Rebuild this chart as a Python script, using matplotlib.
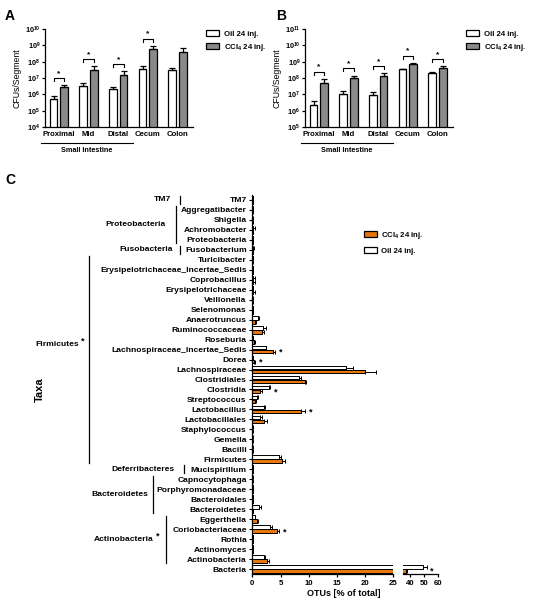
import numpy as np
import matplotlib
matplotlib.use('Agg')
import matplotlib.pyplot as plt
from matplotlib.patches import Patch
from matplotlib.ticker import NullLocator
from matplotlib.transforms import blended_transform_factory

plt.rcParams['font.family'] = ['Liberation Sans', 'DejaVu Sans']
plt.rcParams['font.weight'] = 'bold'
plt.rcParams['mathtext.default'] = 'regular'
plt.rcParams['axes.linewidth'] = 0.9

# ---- panels A / B: CFUs per segment ----
sites = ['Proximal', 'Mid', 'Distal', 'Cecum', 'Colon']

a_oil = [5.2e5, 3.2e6, 2.2e6, 3.7e7, 3.3e7]
a_oil_err = [3.1e5, 1.5e6, 0.5e6, 1.7e7, 1.0e7]
a_ccl4 = [2.7e6, 3.1e7, 1.6e7, 5.8e8, 4.0e8]
a_ccl4_err = [1.0e6, 2.0e7, 1.0e7, 3.3e8, 2.6e8]
a_sig = [0, 1, 2, 3]

b_oil = [2.3e6, 1.0e7, 9.5e6, 3.4e8, 2.1e8]
b_oil_err = [1.4e6, 0.7e7, 0.45e7, 0.3e8, 0.3e8]
b_ccl4 = [5.2e7, 1.0e8, 1.3e8, 6.9e8, 4.3e8]
b_ccl4_err = [3.5e7, 0.4e8, 0.7e8, 1.4e8, 1.1e8]
b_sig = [0, 1, 2, 3, 4]

# ---- panel C: OTUs ----
taxa = ['TM7', 'Aggregatibacter', 'Shigella', 'Achromobacter', 'Proteobacteria',
        'Fusobacterium', 'Turicibacter', 'Erysipelotrichaceae_Incertae_Sedis',
        'Coprobacillus', 'Erysipelotrichaceae', 'Veillonella', 'Selenomonas',
        'Anaerotruncus', 'Ruminococcaceae', 'Roseburia',
        'Lachnospiraceae_Incertae_Sedis', 'Dorea', 'Lachnospiraceae',
        'Clostridiales', 'Clostridia', 'Streptococcus', 'Lactobacillus',
        'Lactobacillales', 'Staphylococcus', 'Gemella', 'Bacilli', 'Firmicutes',
        'Mucispirillum', 'Capnocytophaga', 'Porphyromonadaceae', 'Bacteroidales',
        'Bacteroidetes', 'Eggerthella', 'Coriobacteriaceae', 'Rothia',
        'Actinomyces', 'Actinobacteria', 'Bacteria']
otu_oil = [0.05, 0.05, 0.02, 0.1, 0.05, 0.1, 0.05, 0.05, 0.2, 0.1, 0.02, 0.05,
           0.95, 1.95, 0.1, 2.36, 0.05, 16.7, 8.3, 2.9, 0.9, 2.1, 1.36, 0.02,
           0.02, 0.02, 4.8, 0.1, 0.03, 0.05, 0.05, 1.1, 0.45, 3.2, 0.1, 0.1,
           2.0, 49.5]
otu_oil_err = [0.1, 0.1, 0.03, 0.3, 0.1, 0.2, 0.1, 0.1, 0.3, 0.1, 0.05, 0.1,
               0.25, 0.4, 0.1, 0.15, 0.05, 1.1, 0.4, 0.3, 0.1, 0.1, 0.3, 0.05,
               0.03, 0.03, 0.2, 0.1, 0.05, 0.05, 0.05, 0.5, 0.1, 0.3, 0.05,
               0.05, 0.3, 2.5]
otu_ccl4 = [0.05, 0.02, 0.02, 0.05, 0.05, 0.05, 0.02, 0.05, 0.2, 0.2, 0.02,
            0.05, 0.5, 1.65, 0.3, 3.7, 0.3, 19.9, 9.3, 1.4, 0.4, 8.6, 2.1,
            0.02, 0.02, 0.02, 5.3, 0.1, 0.02, 0.05, 0.05, 0.1, 0.85, 4.4,
            0.05, 0.05, 2.6, 37.0]
otu_ccl4_err = [0.15, 0.05, 0.05, 0.1, 0.1, 0.1, 0.05, 0.1, 0.2, 0.2, 0.05,
                0.1, 0.2, 0.45, 0.1, 0.3, 0.1, 2.1, 0.15, 0.35, 0.2, 0.75,
                0.5, 0.05, 0.03, 0.03, 0.5, 0.1, 0.03, 0.05, 0.05, 0.1, 0.1,
                0.4, 0.05, 0.05, 0.3, 1.0]
otu_sig = ['Lachnospiraceae_Incertae_Sedis', 'Dorea', 'Clostridia',
           'Lactobacillus', 'Coriobacteriaceae', 'Bacteria']

phyla = ['TM7', 'Proteobacteria', 'Fusobacteria', 'Firmicutes',
         'Deferribacteres', 'Bacteroidetes', 'Actinobacteria']
phyla_first = [0, 1, 5, 6, 27, 28, 32]
phyla_last = [0, 4, 5, 26, 27, 31, 36]
phyla_sig = [False, False, False, True, False, False, True]

W, H = 533, 608
GREY = '#8a8a8a'
ORANGE = '#e8760f'
FS_C = 6.1


def rect(l, t, r, b):
    return [l / W, 1 - b / H, (r - l) / W, (b - t) / H]


fig = plt.figure(figsize=(W / 100, H / 100), dpi=100)


def cfu_panel(ax, oil, oil_err, ccl4, ccl4_err, sig, lo, hi):
    x = np.arange(len(sites))
    off, w = 0.18, 0.26
    z = np.zeros(len(sites))
    ax.bar(x - off, oil, w, color='white', edgecolor='black', lw=0.9, zorder=2)
    ax.bar(x + off, ccl4, w, color=GREY, edgecolor='black', lw=0.9, zorder=2)
    ax.errorbar(x - off, oil, yerr=[z, oil_err], fmt='none', ecolor='black',
                elinewidth=0.9, capsize=2.3, capthick=0.9, zorder=3)
    ax.errorbar(x + off, ccl4, yerr=[z, ccl4_err], fmt='none', ecolor='black',
                elinewidth=0.9, capsize=2.3, capthick=0.9, zorder=3)
    ax.set_yscale('log')
    ax.set_ylim(10.0 ** lo, 10.0 ** hi)
    ax.set_xlim(-0.47, 4.52)
    ax.set_yticks(10.0 ** np.arange(lo, hi + 1))
    ax.set_yticklabels(['$10^{%d}$' % e for e in range(lo, hi + 1)])
    ax.yaxis.set_minor_locator(NullLocator())
    ax.tick_params(axis='y', length=2.5, width=0.9, labelsize=5.2, pad=1)
    ax.set_xticks(x)
    ax.set_xticklabels(sites, fontsize=5.6)
    ax.tick_params(axis='x', length=0, pad=3)
    for s in ['top', 'right']:
        ax.spines[s].set_visible(False)
    ax.set_ylabel('CFUs/Segment', fontsize=6.3, labelpad=2)

    top = np.maximum(np.add(oil, oil_err), np.add(ccl4, ccl4_err))
    for i in sig:
        b = top[i] * 2.8
        ax.plot([i - off, i - off, i + off, i + off], [b / 1.5, b, b, b / 1.5],
                color='black', lw=0.8)
        ax.text(i, b * 1.15, '*', ha='center', va='bottom', fontsize=6)

    tr = blended_transform_factory(ax.transData, ax.transAxes)
    ax.plot([-0.6, 2.5], [-0.16, -0.16], color='black', lw=0.8,
            transform=tr, clip_on=False)
    ax.text(0.95, -0.235, 'Small Intestine', transform=tr, ha='center',
            va='center', fontsize=5.2)

    handles = [Patch(facecolor='white', edgecolor='black', lw=0.9),
               Patch(facecolor=GREY, edgecolor='black', lw=0.9)]
    ax.legend(handles, ['Oil 24 inj.', 'CCl$_4$ 24 inj.'], loc='upper left',
              bbox_to_anchor=(1.07, 1.02), frameon=False, fontsize=5.6,
              handlelength=1.6, handleheight=0.8, labelspacing=0.55,
              handletextpad=0.6, borderaxespad=0)


axA = fig.add_axes(rect(45, 29, 193, 127))
cfu_panel(axA, a_oil, a_oil_err, a_ccl4, a_ccl4_err, a_sig, 4, 10)
axB = fig.add_axes(rect(305, 29, 453, 127))
cfu_panel(axB, b_oil, b_oil_err, b_ccl4, b_ccl4_err, b_sig, 5, 11)

fig.text(5 / W, 1 - 16 / H, 'A', fontsize=10, va='center')
fig.text(276 / W, 1 - 16 / H, 'B', fontsize=10, va='center')
fig.text(5 / W, 1 - 180 / H, 'C', fontsize=10, va='center')

# ---- panel C ----
axL = fig.add_axes(rect(252.3, 195, 393.3, 574))
axR = fig.add_axes(rect(403, 195, 438.3, 574))
rows = np.arange(len(taxa))
zc = np.zeros(len(taxa))
for ax in (axL, axR):
    ax.barh(rows - 0.2, otu_oil, 0.38, color='white', edgecolor='black',
            lw=0.7, zorder=2)
    ax.barh(rows + 0.2, otu_ccl4, 0.38, color=ORANGE, edgecolor='black',
            lw=0.7, zorder=2)
    ax.errorbar(otu_oil, rows - 0.2, xerr=[zc, otu_oil_err], fmt='none',
                ecolor='black', elinewidth=0.7, capsize=1.2, capthick=0.7)
    ax.errorbar(otu_ccl4, rows + 0.2, xerr=[zc, otu_ccl4_err], fmt='none',
                ecolor='black', elinewidth=0.7, capsize=1.2, capthick=0.7)
    ax.set_ylim(len(taxa) - 0.5, -0.5)
    for s in ['top', 'right']:
        ax.spines[s].set_visible(False)
    ax.tick_params(axis='x', length=2.5, width=0.9, labelsize=5.6, pad=2)

axL.set_xlim(0, 25)
axL.set_xticks([0, 5, 10, 15, 20, 25])
axL.set_yticks(rows)
axL.set_yticklabels(taxa, fontsize=FS_C)
axL.tick_params(axis='y', length=2.5, width=0.8, pad=1.5)

axR.set_xlim(35, 60)
axR.set_xticks([40, 50, 60])
axR.set_yticks([])
axR.spines['left'].set_visible(False)

tot = np.maximum(np.add(otu_oil, otu_oil_err), np.add(otu_ccl4, otu_ccl4_err))
for name in otu_sig:
    i = taxa.index(name)
    if tot[i] > 25:
        axR.text(tot[i] + 3.5, i + 0.25, '*', ha='center', va='center',
                 fontsize=6.5, clip_on=False)
    else:
        axL.text(tot[i] + 1.0, i + 0.25, '*', ha='center', va='center',
                 fontsize=6.5)

# phylum brackets on the left
tr = blended_transform_factory(fig.transFigure, axL.transData)
line_px = [180, 176, 180, 89, 184, 152.7, 166]
label_px = [171, 166, 173, 79, 175, 148, 154]
label_row = [0, 2.5, 5, 14.5, 27, 29.5, 34]
for k, name in enumerate(phyla):
    f, l = phyla_first[k], phyla_last[k]
    pad = 0.4 if f == l else 0.35
    axL.plot([line_px[k] / W] * 2, [f - pad, l + pad], color='black', lw=0.9,
             transform=tr, clip_on=False)
    axL.text(label_px[k] / W, label_row[k], name, transform=tr, ha='right',
             va='center', fontsize=FS_C)
    if phyla_sig[k]:
        axL.text((label_px[k] + 1.5) / W, label_row[k] - 0.35, '*',
                 transform=tr, ha='left', va='center', fontsize=6.5)

fig.text(40 / W, 1 - 390 / H, 'Taxa', rotation=90, ha='center', va='center',
         fontsize=8)
fig.text(344 / W, 1 - 594 / H, 'OTUs [% of total]', ha='center',
         va='center', fontsize=6.5)

handles = [Patch(facecolor=ORANGE, edgecolor='black', lw=0.9),
           Patch(facecolor='white', edgecolor='black', lw=0.9)]
fig.legend(handles, ['CCl$_4$ 24 inj.', 'Oil 24 inj.'], loc='upper left',
           bbox_to_anchor=(361 / W, 1 - 227 / H), frameon=False, fontsize=5.6,
           handlelength=1.6, handleheight=0.8, labelspacing=0.8,
           handletextpad=0.6, borderaxespad=0)

fig.savefig('out.png', dpi=100)
